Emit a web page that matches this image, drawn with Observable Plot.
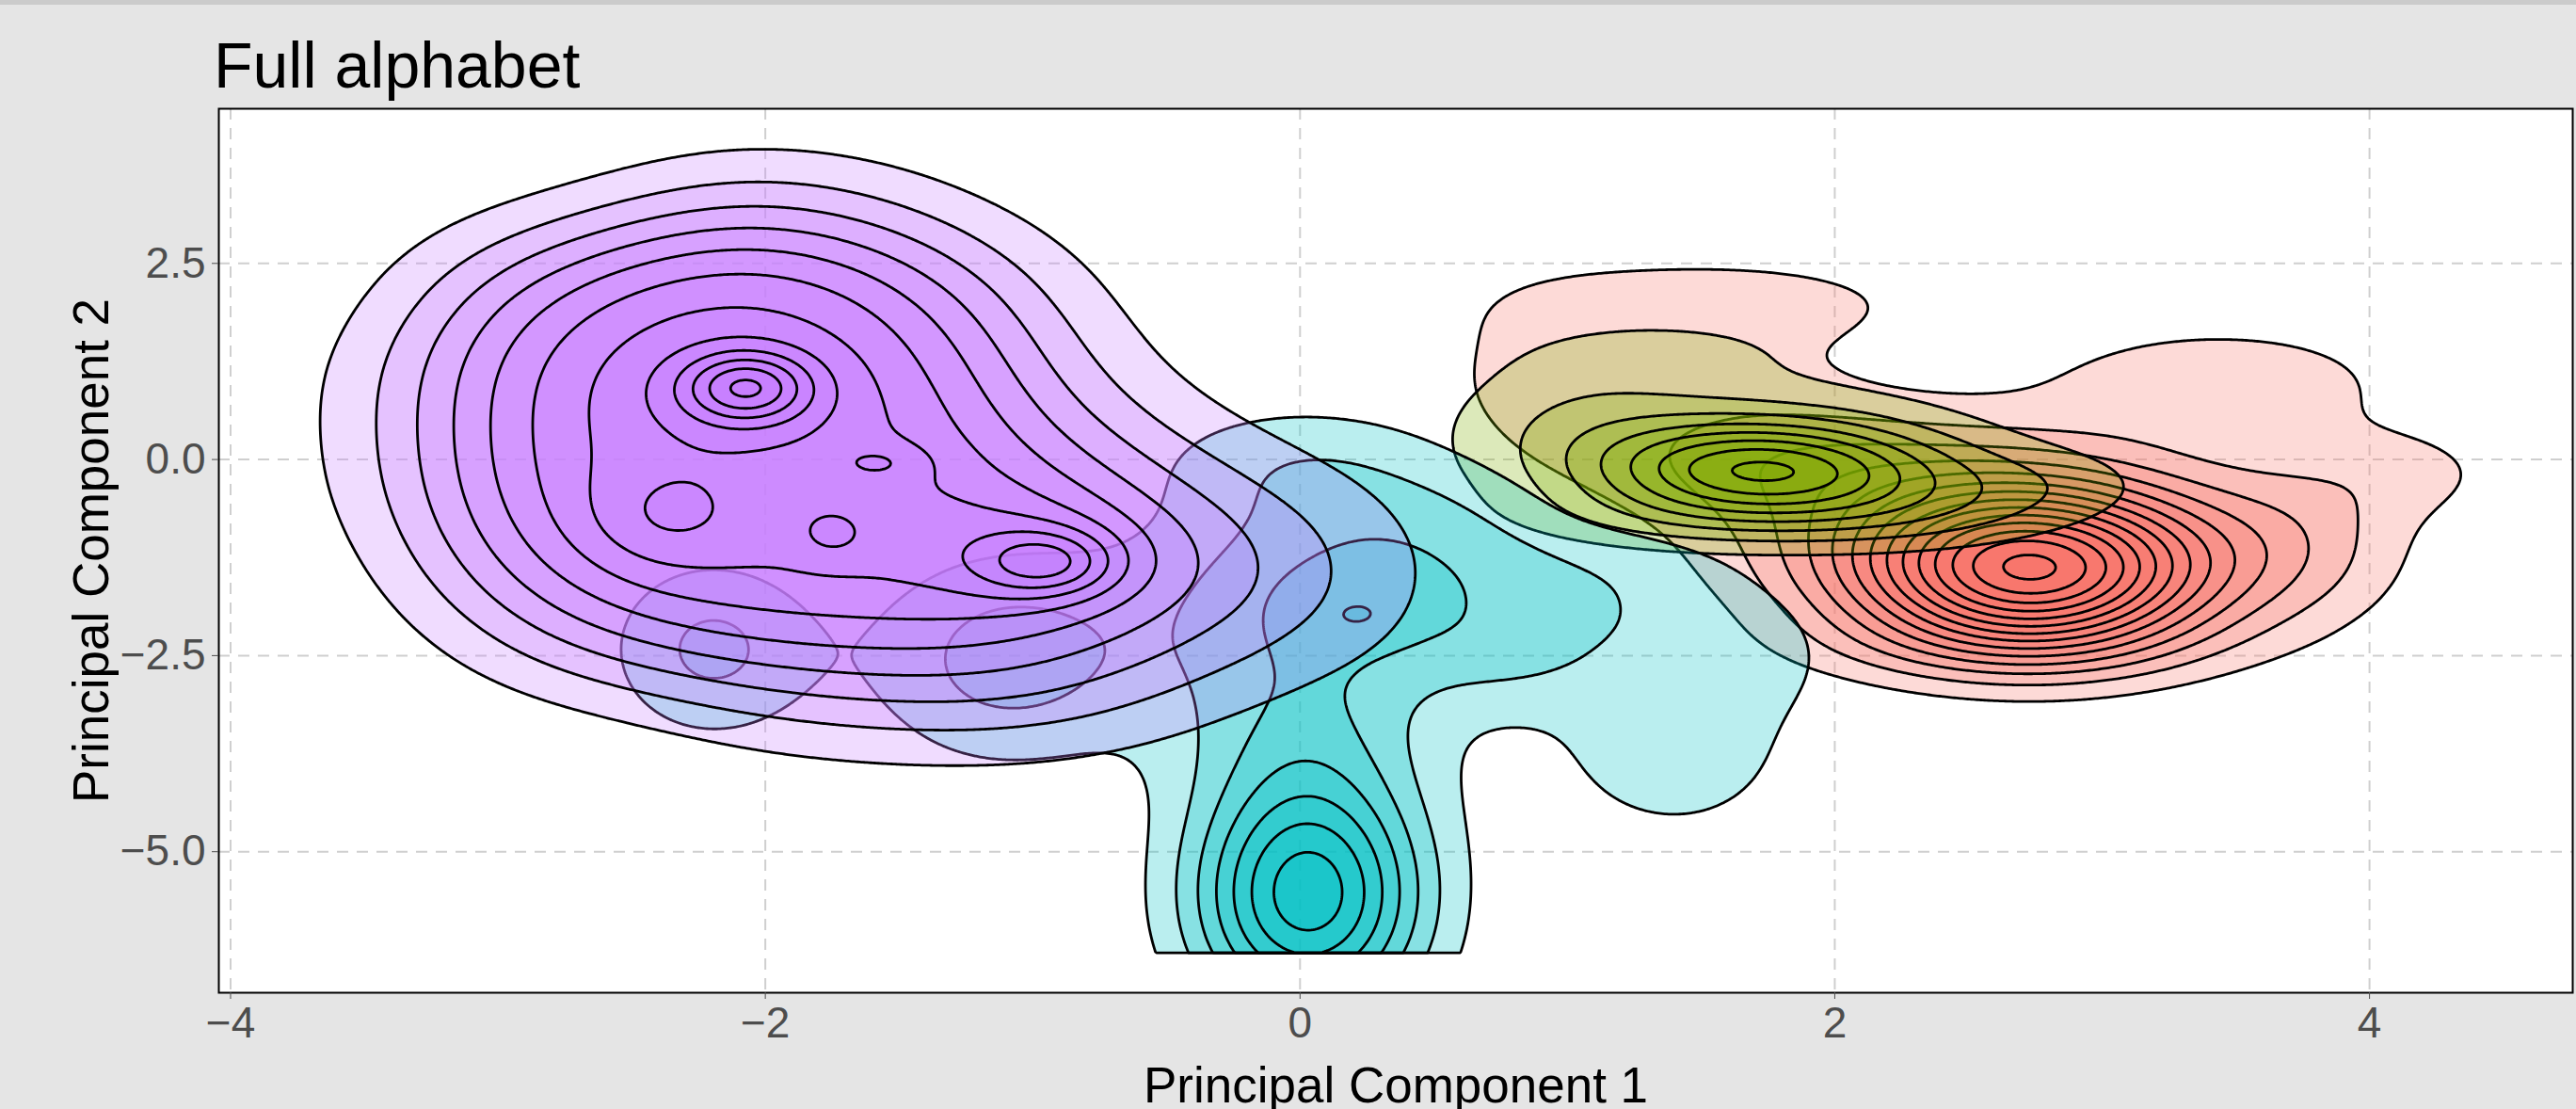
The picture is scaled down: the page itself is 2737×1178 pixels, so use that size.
<!DOCTYPE html>
<html><head><meta charset="utf-8">
<script src="https://cdn.jsdelivr.net/npm/d3@7"></script>
<script src="https://cdn.jsdelivr.net/npm/@observablehq/plot@0.6"></script>
<style>
html,body{margin:0;padding:0;background:#E5E5E5;}
body{width:2737px;height:1178px;overflow:hidden;position:relative;font-family:"Liberation Sans",Arial,Helvetica,sans-serif;}
#band{position:absolute;left:0;top:0;width:2737px;height:5px;background:#CBCBCB;}
#title{height:110px;box-sizing:border-box;padding:35px 0 0 227px;font-size:68px;line-height:68px;color:#000;white-space:nowrap;}
#ytitle{position:absolute;left:96px;top:585px;transform:translate(-50%,-50%) rotate(-90deg);font-size:53px;line-height:53px;white-space:nowrap;color:#000;}
#chart svg{display:block;}
</style></head><body>
<div id="band"></div>
<div id="title">Full alphabet</div>
<div id="ytitle">Principal Component 2</div>
<div id="chart"></div>
<script>
// ---- axes ----
const xTicks = [-4, -2, 0, 2, 4];
const yTicks = [-5, -2.5, 0, 2.5];
const xDomain = [-4.044, 4.76];
const yDomain = [-6.798, 4.472];
const xTitle = "Principal Component 1";
const levels = [1,2,3,4,5,6,7,8,9,10,11,12,13,14,15,16];

// ---- groups: density clusters (centre, spread, height) ----
const groupColors = ["#F8766D", "#7CAE00", "#00BFC4", "#C77CFF"];

const redX  = [2.75, 2.55, 1.75, 0.9, 3.75, 3.45, 1.55, 2.6, 4.15, 1.5];
const redY  = [-1.46, -0.85, 0.05, 1.0, -1.1, 1.0, 2.0, -2.4, -0.15, 1.1];
const redSX = [0.45, 0.65, 0.5, 0.3, 0.3, 0.45, 0.55, 0.6, 0.3, 0.45];
const redSY = [0.70, 0.85, 0.55, 0.8, 0.75, 0.5, 0.42, 0.35, 0.45, 0.45];
const redW  = [11.5, 3.6, 1.8, 1.1, 1.6, 1.7, 1.6, 0.8, 1.0, 0.9];

const greenX  = [1.72, 1.65, 2.35, 1.0, 1.4, 2.85, 1.5, 2.3];
const greenY  = [-0.13, 0.0, -0.45, 0.7, 1.45, -0.3, -0.75, -0.8];
const greenSX = [0.40, 0.65, 0.45, 0.35, 0.45, 0.3, 0.5, 0.4];
const greenSY = [0.40, 0.65, 0.40, 0.55, 0.35, 0.35, 0.3, 0.3];
const greenW  = [5.2, 2.6, 1.2, 1.0, 0.9, 0.6, 1.0, 0.6];

const cyanX  = [0.03, 0.0, 0.05, 0.22, 1.4, 1.3, -1.1, -2.2, 0.0, 0.55, 1.7, 0.8, 0.55, 1.15];
const cyanY  = [-5.55, -3.5, -1.8, -2.0, -3.6, -1.9, -2.55, -2.42, 0.0, -0.75, -2.6, -2.6, -1.8, -1.3];
const cyanSX = [0.30, 0.36, 0.45, 0.12, 0.35, 0.45, 0.36, 0.27, 0.4, 0.35, 0.25, 0.25, 0.35, 0.35];
const cyanSY = [1.1, 0.8, 1.0, 0.22, 0.95, 0.6, 0.95, 0.8, 0.55, 0.55, 0.5, 0.5, 0.6, 0.4];
const cyanW  = [7.6, 1.5, 2.8, 0.55, 1.6, 1.15, 2.4, 2.2, 1.3, 1.0, 0.6, 0.9, 0.9, 0.6];
const cyanFloor = -6.29; // lowest cyan observation: its density is cut there

// purple: a broad body of clusters plus two sharp peaks and three small bumps
const purpleX = [-2.1, -1.6,
  -2.9, -2.4, -1.9, -1.4, -0.9,
  -2.9, -2.4, -1.9, -1.4, -0.9, -0.4,
  -2.9, -2.4, -1.9, -1.4, -0.9, -0.4,
  -2.9, -2.4, -1.9, -1.4, -0.9, -0.4, 0.1,
  -2.9, -2.4, -1.9, -1.4, -0.9, -0.4, 0.1,
  -2.7, -2.2, -1.7, -1.2, -0.7, -0.2, 0.2,
  -2.0, -1.5, -1.0, -0.5,
  -3.4, -3.4,
  -2.07, -2.1, -0.946, -1.0, -2.38, -1.75, -1.56];
const purpleY = [3.2, 3.2,
  2.3, 2.3, 2.3, 2.3, 2.3,
  1.4, 1.4, 1.4, 1.4, 1.4, 1.4,
  0.5, 0.5, 0.5, 0.5, 0.5, 0.5,
  -0.4, -0.4, -0.4, -0.4, -0.4, -0.4, -0.4,
  -1.3, -1.3, -1.3, -1.3, -1.3, -1.3, -1.3,
  -2.2, -2.2, -2.2, -2.2, -2.2, -2.2, -2.2,
  -3.1, -3.1, -3.1, -3.1,
  1.0, -0.2,
  0.92, 0.8, -1.315, -1.25, -0.75, -0.95, -0.04];
const purpleW = [0.9, 0.4,
  1.1, 2.0, 2.0, 1.2, 0.15,
  1.8, 1.8, 1.8, 1.8, 0.3, 0.0,
  1.8, 1.8, 1.8, 1.8, 0.7, 0.15,
  1.8, 1.8, 1.8, 1.8, 1.5, 0.6, 0.3,
  1.5, 1.8, 1.8, 1.8, 1.8, 1.1, 0.7,
  1.1, 1.5, 1.5, 1.5, 1.0, 0.6, 0.3,
  0.5, 0.7, 0.8, 0.35,
  0.35, 0.3,
  3.8, 1.0, 2.6, 1.1, 1.0, 0.9, 0.9];
const purpleSX = purpleX.map((_, i) => [0.16, 0.28, 0.17, 0.32, 0.20, 0.10, 0.12][i - 46] ?? 0.4);
const purpleSY = purpleX.map((_, i) => [0.30, 0.50, 0.28, 0.50, 0.45, 0.25, 0.17][i - 46] ?? 0.75);

function surface(cx, cy, sx, sy, w) {
  const n = cx.length;
  return (x, y) => {
    let s = 0;
    for (let i = 0; i < n; ++i) {
      const dx = (x - cx[i]) / sx[i], dy = (y - cy[i]) / sy[i];
      s += w[i] * Math.exp(-0.5 * (dx * dx + dy * dy));
    }
    return s;
  };
}

const groups = [
  {f: surface(redX, redY, redSX, redSY, redW), y1: yDomain[0]},
  {f: surface(greenX, greenY, greenSX, greenSY, greenW), y1: yDomain[0]},
  {f: surface(cyanX, cyanY, cyanSX, cyanSY, cyanW), y1: cyanFloor},
  {f: surface(purpleX, purpleY, purpleSX, purpleSY, purpleW), y1: yDomain[0]}
];

const contourMarks = groups.map((g, i) => Plot.contour({
  value: g.f,
  x1: xDomain[0], x2: xDomain[1], y1: g.y1, y2: yDomain[1],
  thresholds: levels,
  pixelSize: 2,
  fill: groupColors[i],
  fillOpacity: 0.27,
  stroke: "black",
  strokeWidth: 2.8,
  strokeLinejoin: "round"
}));

const chart = Plot.plot({
  width: 2737,
  height: 1068,
  marginTop: 5,
  marginBottom: 124,
  marginLeft: 232,
  marginRight: 4,
  x: {domain: xDomain},
  y: {domain: yDomain},
  style: {fontFamily: "'Liberation Sans', Arial, Helvetica, sans-serif", background: "transparent", overflow: "visible"},
  marks: [
    Plot.frame({fill: "white", stroke: null}),
    Plot.gridX(xTicks, {stroke: "#CFCFCF", strokeOpacity: 1, strokeWidth: 2, strokeDasharray: "12,9"}),
    Plot.gridY(yTicks, {stroke: "#CFCFCF", strokeOpacity: 1, strokeWidth: 2, strokeDasharray: "12,9"}),
    ...contourMarks,
    Plot.frame({stroke: "black", strokeWidth: 2}),
    Plot.axisX(xTicks, {tickSize: 7, tickPadding: 8, fontSize: 46, color: "#4D4D4D", label: null, tickFormat: d3.format("d")}),
    Plot.axisY(yTicks, {tickSize: 7, tickPadding: 7, fontSize: 46, color: "#4D4D4D", label: null, tickFormat: d3.format(".1f")}),
    Plot.text([xTitle], {frameAnchor: "bottom", dy: 116, lineAnchor: "bottom", fontSize: 53, fill: "black"})
  ]
});
document.getElementById("chart").appendChild(chart);
</script></body></html>
